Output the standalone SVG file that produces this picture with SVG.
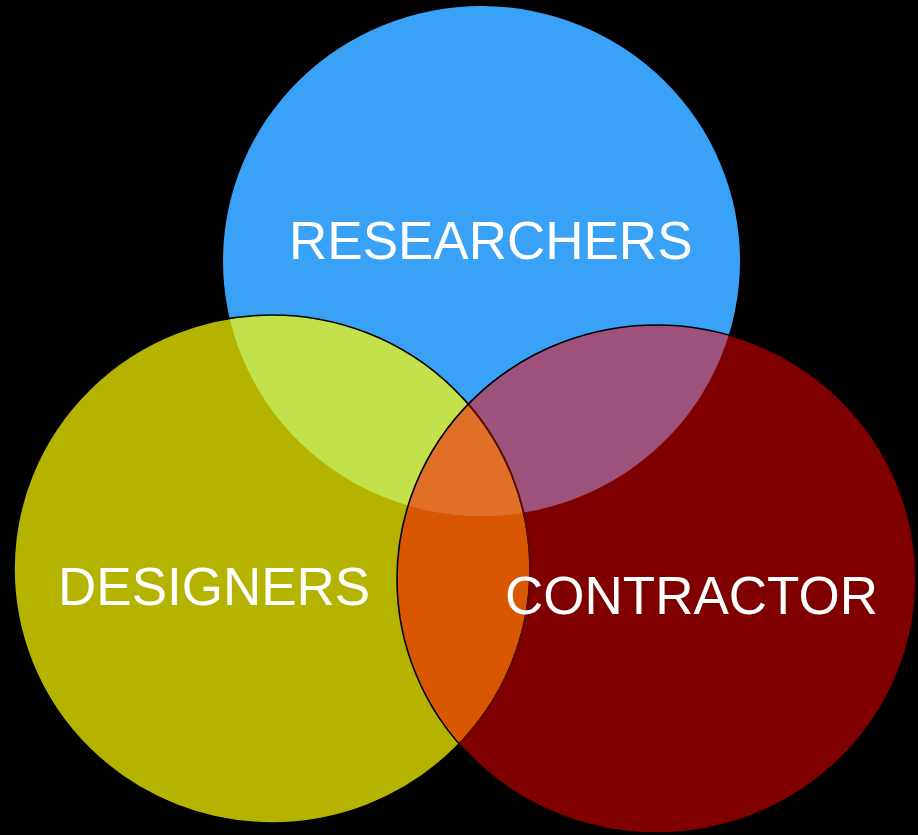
<svg xmlns="http://www.w3.org/2000/svg" width="918" height="835" viewBox="0 0 918 835">
  <style>
    .lbl { font-family: "Liberation Sans", Arial, sans-serif; font-size: 53px; fill: #FFFFFF; }
  </style>
  <defs>
    <clipPath id="cB"><ellipse cx="481.5" cy="261" rx="258.5" ry="255"/></clipPath>
    <clipPath id="cY"><ellipse cx="272" cy="569" rx="258" ry="254"/></clipPath>
    <clipPath id="cR"><ellipse cx="656.5" cy="579" rx="259.5" ry="254"/></clipPath>
  </defs>
  <rect x="0" y="0" width="918" height="835" fill="#000000"/>

  <g id="researchers">
    <ellipse cx="481.5" cy="261" rx="258.5" ry="255" fill="#39A1F6"/>
  </g>
  <g id="designers">
    <ellipse cx="272" cy="569" rx="258" ry="254" fill="#B3B300"/>
  </g>
  <g id="contractor">
    <ellipse cx="656.5" cy="579" rx="259.5" ry="254" fill="#800000"/>
  </g>

  <g id="overlaps">
    <!-- designers ∩ contractor -->
    <g clip-path="url(#cY)">
      <ellipse cx="656.5" cy="579" rx="259.5" ry="254" fill="#D95700"/>
    </g>
    <!-- researchers ∩ designers -->
    <g clip-path="url(#cY)">
      <ellipse cx="481.5" cy="261" rx="258.5" ry="255" fill="#C2E14A"/>
    </g>
    <!-- researchers ∩ contractor -->
    <g clip-path="url(#cR)">
      <ellipse cx="481.5" cy="261" rx="258.5" ry="255" fill="#9C527A"/>
    </g>
    <!-- all three -->
    <g clip-path="url(#cY)">
      <g clip-path="url(#cR)">
        <ellipse cx="481.5" cy="261" rx="258.5" ry="255" fill="#E07028"/>
      </g>
    </g>
  </g>

  <g id="outlines" fill="none">
    <ellipse cx="272" cy="569" rx="258" ry="254" stroke="#000000" stroke-width="1.6"/>
    <g clip-path="url(#cR)">
      <ellipse cx="272" cy="569" rx="258" ry="254" stroke="#6A0A00" stroke-width="1.6"/>
    </g>
    <ellipse cx="656.5" cy="579" rx="259.5" ry="254" stroke="#000000" stroke-width="1.6"/>
  </g>

  <g id="labels">
    <text class="lbl" x="289" y="259">RESEARCHERS</text>
    <text class="lbl" x="58" y="605">DESIGNERS</text>
    <text class="lbl" x="505" y="614">CONTRACTOR</text>
  </g>
</svg>
